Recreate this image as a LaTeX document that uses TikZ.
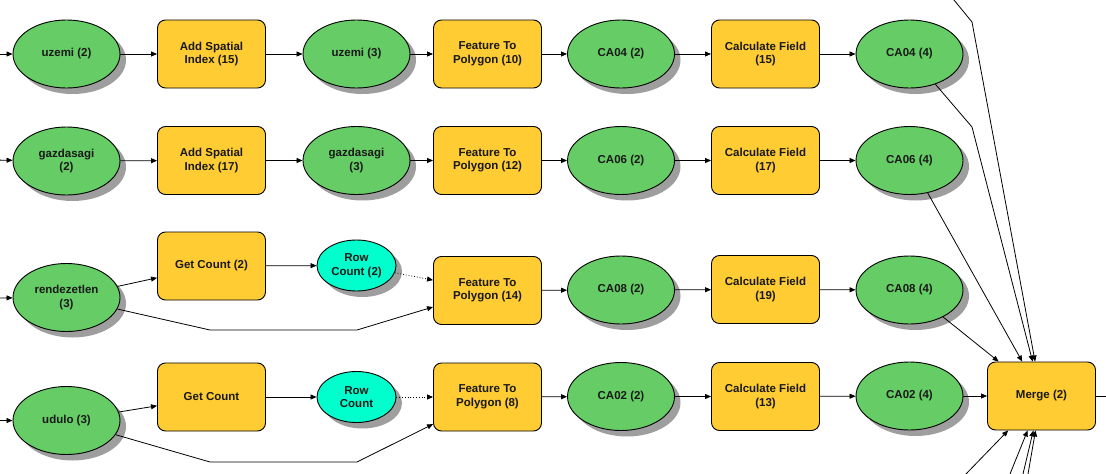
\documentclass[tikz,border=0pt]{standalone}
\usepackage{fontspec}
\setmainfont{Liberation Sans}
\usetikzlibrary{shapes.geometric,arrows.meta,shadows}
\definecolor{dgreen}{RGB}{102,204,102}
\definecolor{tyellow}{RGB}{255,204,51}
\definecolor{tcyan}{RGB}{0,255,204}
\definecolor{shadowgray}{RGB}{158,158,158}
\tikzset{
  base/.style={draw=black, line width=0.9pt, align=center, inner sep=0pt,
    font=\fontsize{11.5}{13.5}\selectfont\bfseries, text=black!90},
  shad/.style={general shadow={fill=shadowgray, shadow xshift=6pt, shadow yshift=-6pt}},
  data/.style={base, shad, ellipse, fill=dgreen, minimum width=107pt, minimum height=68pt},
  rowc/.style={base, shad, ellipse, fill=tcyan, minimum width=79pt, minimum height=51pt},
  tool/.style={base, rectangle, rounded corners=8pt, fill=tyellow, minimum width=108pt, minimum height=68pt},
  arr/.style={line width=0.8pt, -{Triangle[length=6pt,width=5pt]}},
  dotarr/.style={line width=0.8pt, dotted, -{Triangle[length=6pt,width=5pt]}},
  plain/.style={line width=0.8pt}
}
\begin{document}
\begin{tikzpicture}[x=1pt,y=-1pt]
\clip (0,0) rectangle (1106,474);
\fill[white] (0,0) rectangle (1106,474);
% Row 1
\node[data] (u2) at (66.5,54) {uzemi (2)};
\node[tool] (asi15) at (211.5,54) {Add Spatial\\Index (15)};
\node[data] (u3) at (356.5,54) {uzemi (3)};
\node[tool] (ftp10) at (487.5,54) {Feature To\\Polygon (10)};
\node[data] (ca04a) at (621,54) {CA04 (2)};
\node[tool] (cf15) at (765.5,54) {Calculate Field\\(15)};
\node[data] (ca04b) at (909.5,54) {CA04 (4)};
% Row 2
\node[data] (g2) at (66.5,161) {gazdasagi\\(2)};
\node[tool] (asi17) at (211.5,160.5) {Add Spatial\\Index (17)};
\node[data] (g3) at (356.5,160.5) {gazdasagi\\(3)};
\node[tool] (ftp12) at (487.5,160.5) {Feature To\\Polygon (12)};
\node[data] (ca06a) at (621,160.5) {CA06 (2)};
\node[tool] (cf17) at (765.5,160.5) {Calculate Field\\(17)};
\node[data] (ca06b) at (909.5,160.5) {CA06 (4)};
% Row 3
\node[data] (r3) at (66.5,297.5) {rendezetlen\\(3)};
\node[tool] (gc2) at (211.5,266) {Get Count (2)};
\node[rowc] (rc2) at (356.5,265.5) {Row\\Count (2)};
\node[tool] (ftp14) at (487.5,290.5) {Feature To\\Polygon (14)};
\node[data] (ca08a) at (621,290) {CA08 (2)};
\node[tool] (cf19) at (765.5,289.5) {Calculate Field\\(19)};
\node[data] (ca08b) at (909.5,290) {CA08 (4)};
% Row 4
\node[data] (ud3) at (66.5,420.5) {udulo (3)};
\node[tool] (gc) at (211.5,397) {Get Count};
\node[rowc] (rc) at (356.5,397) {Row\\Count};
\node[tool] (ftp8) at (487.5,397) {Feature To\\Polygon (8)};
\node[data] (ca02a) at (621,396.5) {CA02 (2)};
\node[tool] (cf13) at (765.5,396.5) {Calculate Field\\(13)};
\node[data] (ca02b) at (909.5,396) {CA02 (4)};
\node[tool] (merge) at (1041.5,396) {Merge (2)};
% free ends
\coordinate (in1) at (-10,54);
\coordinate (in2) at (-10,160);
\coordinate (in3) at (-10,298);
\coordinate (in4) at (-10,420.5);
\coordinate (out) at (1130,396);
\coordinate (b1) at (210,330);
\coordinate (b2) at (357,330);
\coordinate (b3) at (210,462);
\coordinate (b4) at (357,462);
\coordinate (k1) at (972,127);
\coordinate (t0) at (937.6,-20);
\coordinate (t1) at (972,22);
\coordinate (s1) at (940.8,500);
\coordinate (s2) at (999.5,500);
\coordinate (s3) at (1016.8,500);
\coordinate (s4) at (1023.5,500);
% connectors row 1
\draw[arr] (in1) -- (u2);
\draw[arr] (u2) -- (asi15);
\draw[arr] (asi15) -- (u3);
\draw[arr] (u3) -- (ftp10);
\draw[arr] (ftp10) -- (ca04a);
\draw[arr] (ca04a) -- (cf15);
\draw[arr] (cf15) -- (ca04b);
% row 2
\draw[arr] (in2) -- (g2);
\draw[arr] (g2) -- (asi17);
\draw[arr] (asi17) -- (g3);
\draw[arr] (g3) -- (ftp12);
\draw[arr] (ftp12) -- (ca06a);
\draw[arr] (ca06a) -- (cf17);
\draw[arr] (cf17) -- (ca06b);
% row 3
\draw[arr] (in3) -- (r3);
\draw[arr] (r3) -- (gc2);
\draw[arr] (gc2) -- (rc2);
\draw[dotarr] (rc2) -- (ftp14);
\draw[arr] (r3) -- (b1) -- (b2) -- (ftp14);
\draw[arr] (ftp14) -- (ca08a);
\draw[arr] (ca08a) -- (cf19);
\draw[arr] (cf19) -- (ca08b);
% row 4
\draw[arr] (in4) -- (ud3);
\draw[arr] (ud3) -- (gc);
\draw[arr] (gc) -- (rc);
\draw[dotarr] (rc) -- (ftp8);
\draw[arr] (ud3) -- (b3) -- (b4) -- (ftp8);
\draw[arr] (ftp8) -- (ca02a);
\draw[arr] (ca02a) -- (cf13);
\draw[arr] (cf13) -- (ca02b);
% merge
\draw[arr] (ca02b) -- (merge);
\draw[arr] (ca08b) -- (merge);
\draw[arr] (ca06b) -- (merge);
\draw[arr] (ca04b) -- (k1) -- (merge);
\draw[arr] (t0) -- (t1) -- (merge);
\draw[arr] (s1) -- (merge);
\draw[arr] (s2) -- (merge);
\draw[arr] (s3) -- (merge);
\draw[arr] (s4) -- (merge);
\draw[plain] (merge) -- (out);
\end{tikzpicture}
\end{document}
